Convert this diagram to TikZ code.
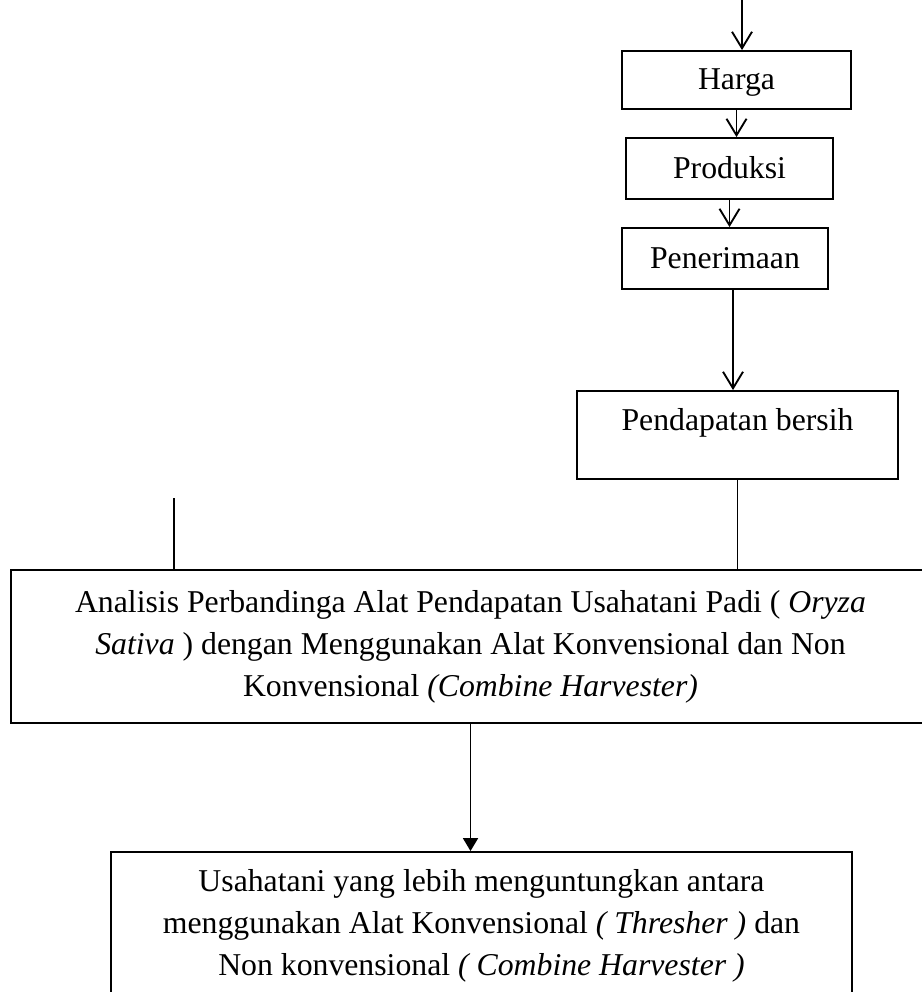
\documentclass[tikz,border=0pt]{standalone}
\usepackage{fontspec}
\setmainfont{Liberation Serif}
\usepackage{tikz}
\usetikzlibrary{arrows.meta,shapes,positioning}

\begin{document}
\begin{tikzpicture}[x=0.4pt,y=-0.4pt,->,>={Straight Barb[length=6.6pt,width=8pt]},line width=0.75pt,
	box/.style={draw,rectangle,inner sep=0pt,align=center,font=\fontsize{12.7pt}{16.8pt}\selectfont},
	small/.style={box,text height=8pt,text depth=0pt}]
	\useasboundingbox (0,0) rectangle (921,992);
	\node[small,minimum width=91.6pt,minimum height=23.2pt] (A) at (736.5,80) {Harga};
	\node[small,minimum width=82.8pt,minimum height=24.4pt] (B) at (729.5,168.5) {Produksi};
	\node[small,minimum width=82.4pt,minimum height=24.4pt] (C) at (725,258.5) {Penerimaan};
	\node[box,minimum width=128.4pt,minimum height=35.2pt,text height=8pt,text depth=12pt] (D) at (737.5,435) {Pendapatan bersih};
	\node[box,minimum width=367.6pt,minimum height=61.2pt] (E) at (470.5,646.5)
		{Analisis Perbandinga Alat Pendapatan Usahatani Padi ( \textit{Oryza}\\
		\textit{Sativa} ) dengan Menggunakan Alat Konvensional dan Non\\
		Konvensional \textit{(Combine Harvester)}};
	\node[box,minimum width=296.4pt,minimum height=59.2pt] (F) at (481.5,926)
		{Usahatani yang lebih menguntungkan antara\\
		menggunakan Alat Konvensional \textit{( Thresher )} dan\\
		Non konvensional \textit{( Combine Harvester )}};
	% free ends
	\coordinate (in) at (742,0);
	\coordinate (L) at (174,498);
	\coordinate (c) at ([xshift=3.2pt]C.south);
	\path
	(in) edge (in |- A.north)
	(A.south) edge (A.south |- B.north)
	(B.south) edge (B.south |- C.north)
	(c) edge (c |- D.north)
	(D.south) edge[-] (D.south |- E.north)
	(L) edge[-] (L |- E.north)
	(E.south) edge[-{Triangle[length=5.2pt,width=6pt]}] (E.south |- F.north);
\end{tikzpicture}
\end{document}
